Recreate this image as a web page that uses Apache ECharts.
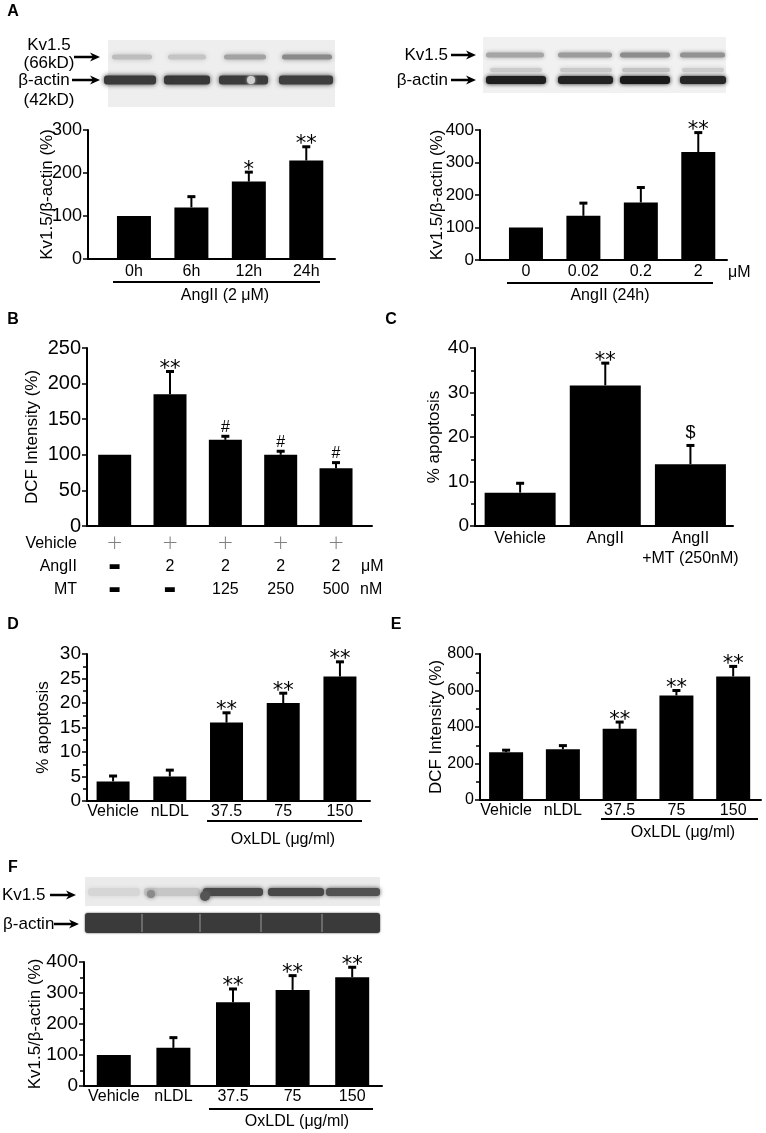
<!DOCTYPE html>
<html><head><meta charset="utf-8">
<script src="https://cdn.jsdelivr.net/npm/echarts@6/dist/echarts.min.js"></script>
<style>html,body{margin:0;padding:0;background:#fff}#c{width:766px;height:1133px}</style>
</head><body><div id="c"></div>
<script>
// ---------------- DATA ----------------
const aTimeCats = ['0h', '6h', '12h', '24h'];
const aTimeVals = [100, 120, 180, 229];
const aTimeErr  = [0, 25, 22, 32];
const aTimeSig  = ['', '', '*', '**'];

const aDoseCats = ['0', '0.02', '0.2', '2'];
const aDoseVals = [100, 136, 177, 332];
const aDoseErr  = [0, 39, 46, 60];
const aDoseSig  = ['', '', '', '**'];

const bVehicleRow = ['+', '+', '+', '+', '+'];
const bAngRow     = ['-', '2', '2', '2', '2'];
const bMtRow      = ['-', '-', '125', '250', '500'];
const bRowNames   = ['Vehicle', 'AngII', 'MT'];
const bVals = [100, 185, 121, 100, 81];
const bErr  = [0, 32, 5, 5, 8];
const bSig  = ['', '**', '#', '#', '#'];

const cCats = ['Vehicle', 'AngII', 'AngII\n+MT (250nM)'];
const cVals = [7.5, 31.6, 13.9];
const cErr  = [2.1, 5.0, 4.2];
const cSig  = ['', '**', '$'];

const oxCats = ['Vehicle', 'nLDL', '37.5', '75', '150'];
const dVals = [4, 5, 16, 20, 25.4];
const dErr  = [1.1, 1.3, 2.0, 2.0, 3.0];
const dSig  = ['', '', '**', '**', '**'];

const eVals = [262, 278, 390, 573, 677];
const eErr  = [11, 20, 37, 27, 55];
const eSig  = ['', '', '**', '**', '**'];

const fVals = [100, 123, 270, 310, 351];
const fErr  = [0, 33, 43, 46, 32];
const fSig  = ['', '', '**', '**', '**'];

// ---------------- LAYOUT ----------------
const FONT = 'Liberation Sans, Arial, Helvetica, sans-serif';
const panels = [
  {cats:aTimeCats, vals:aTimeVals, err:aTimeErr, sig:aTimeSig, grid:{left:88, top:130, width:247, height:129},
   x:[-0.8,3.5], y:[0,300,100], barW:34, yfs:18, gap:32, xm:5, name:'Kv1.5/β-actin (%)', minor:false},
  {cats:aDoseCats, vals:aDoseVals, err:aDoseErr, sig:aDoseSig, grid:{left:480, top:130, width:247, height:130},
   x:[-0.8,3.5], y:[0,400,100], barW:34, yfs:17, gap:34, xm:4, name:'Kv1.5/β-actin (%)', minor:false},
  {cats:null, vals:bVals, err:bErr, sig:bSig, grid:{left:87, top:348, width:285, height:178},
   x:[-0.5,4.65], y:[0,250,50], barW:33, yfs:20, gap:46, xm:6, name:'DCF Intensity (%)', minor:false, bRows:true},
  {cats:cCats, vals:cVals, err:cErr, sig:cSig, grid:{left:475, top:348, width:258, height:178},
   x:[-0.53,2.5], y:[0,40,10], barW:71, yfs:19, gap:32, xm:3, name:'% apoptosis', minor:true, lh:20},
  {cats:oxCats, vals:dVals, err:dErr, sig:dSig, grid:{left:87, top:654, width:283, height:147},
   x:[-0.46,4.53], y:[0,30,5], barW:33, yfs:19, gap:35, xm:3, name:'% apoptosis', minor:true},
  {cats:oxCats, vals:eVals, err:eErr, sig:eSig, grid:{left:480, top:654, width:281, height:146},
   x:[-0.46,4.49], y:[0,800,200], barW:34, yfs:16, gap:35, xm:3, name:'DCF Intensity (%)', minor:true},
  {cats:oxCats, vals:fVals, err:fErr, sig:fSig, grid:{left:84, top:962, width:298, height:124},
   x:[-0.5,4.5], y:[0,400,100], barW:34, yfs:19, gap:40, xm:3, name:'Kv1.5/β-actin (%)', minor:true}
];

function makeErr(sig) {
  return function (params, api) {
    const k = params.dataIndex;
    const x = api.value(0), v = api.value(1), e = api.value(2);
    const p0 = api.coord([x, v]), p1 = api.coord([x, v + e]);
    const ch = [];
    if (e > 0) {
      ch.push({type:'line', shape:{x1:p0[0], y1:p0[1], x2:p1[0], y2:p1[1]}, style:{stroke:'#000', lineWidth:2}});
      ch.push({type:'line', shape:{x1:p1[0]-4, y1:p1[1], x2:p1[0]+4, y2:p1[1]}, style:{stroke:'#000', lineWidth:3}});
    }
    const s = sig[k];
    if (s) {
      const star = s.indexOf('*') >= 0;
      const off = star ? 2 : (s === '$' ? 12 : 9);
      ch.push({type:'text', style:{text:s, x:p1[0], y:p1[1]-off, align:'center', verticalAlign:'middle',
        fontSize: star ? 21 : (s === '$' ? 18 : 16), fontFamily: star ? 'DejaVu Sans' : FONT, fill:'#000'}});
    }
    return {type:'group', children:ch};
  };
}

const grids = [], xAxes = [], yAxes = [], series = [];
panels.forEach((p, i) => {
  grids.push(Object.assign({containLabel:false}, p.grid));
  const idx = p.vals.map((_, k) => k);
  const xl = {customValues: idx, fontSize:16, color:'#000', fontFamily:FONT, margin:p.xm,
    formatter: v => p.cats[Math.round(v)]};
  if (p.lh) xl.lineHeight = p.lh;
  if (p.bRows) {
    xl.formatter = v => {
      const k = Math.round(v);
      const f = s => s === '-' ? '{d|▬}' : (s === '+' ? '{p|+}' : '{n|' + s + '}');
      return f(bVehicleRow[k]) + '\n' + f(bAngRow[k]) + '\n' + f(bMtRow[k]);
    };
    xl.rich = {
      p:{fontSize:20, color:'#808080', fontFamily:'DejaVu Sans', fontWeight:200, lineHeight:23},
      n:{fontSize:16, color:'#000', fontFamily:FONT, lineHeight:23},
      d:{fontSize:13, color:'#000', fontFamily:'DejaVu Sans', lineHeight:23}
    };
  }
  xAxes.push({gridIndex:i, type:'value', min:p.x[0], max:p.x[1],
    axisLine:{show:true, onZero:false, lineStyle:{color:'#000', width:2}},
    axisTick:{show:false}, splitLine:{show:false}, axisLabel:xl});
  yAxes.push({gridIndex:i, type:'value', min:p.y[0], max:p.y[1], interval:p.y[2],
    axisLine:{show:true, onZero:false, lineStyle:{color:'#000', width:2}},
    axisTick:{show:true, length:5, lineStyle:{color:'#000', width:1.5}},
    minorTick:{show:p.minor, splitNumber:2, length:4, lineStyle:{color:'#000', width:1.5}},
    splitLine:{show:false}, minorSplitLine:{show:false},
    axisLabel:{fontSize:p.yfs, color:'#000', fontFamily:FONT, margin:6},
    name:p.name, nameLocation:'middle', nameGap:p.gap, nameMoveOverlap:false,
    nameTextStyle:{fontSize:17, color:'#000', fontFamily:FONT}});
  series.push({type:'bar', xAxisIndex:i, yAxisIndex:i, barWidth:p.barW,
    data:p.vals.map((v, k) => [k, v]), itemStyle:{color:'#000'}, silent:true});
  series.push({type:'custom', xAxisIndex:i, yAxisIndex:i, clip:false, z:5,
    data:p.vals.map((v, k) => [k, v, p.err[k]]), renderItem:makeErr(p.sig)});
});

// ---------------- DECORATION (blots, labels) ----------------
const G = [];
function txt(s, x, y, o) {
  o = o || {};
  G.push({type:'text', z:10, style:{text:s, x:x, y:y, fill:'#000', fontSize:o.fs || 16, fontFamily:FONT,
    fontWeight:o.fw || 'normal', textAlign:o.align || 'center', textVerticalAlign:'middle'}});
}
function arrow(x1, y, x2) {
  G.push({type:'line', z:10, shape:{x1:x1, y1:y, x2:x2-6, y2:y}, style:{stroke:'#000', lineWidth:2.5}});
  G.push({type:'polygon', z:10, shape:{points:[[x2-10, y-4.5], [x2, y], [x2-10, y+4.5], [x2-7, y]]}, style:{fill:'#000'}});
}
function hline(x1, x2, y) {
  G.push({type:'line', z:10, shape:{x1:x1, y1:y, x2:x2, y2:y}, style:{stroke:'#000', lineWidth:2}});
}
function rect(x, y, w, h, fill, blur) {
  G.push({type:'rect', z:1, shape:{x:x, y:y, width:w, height:h, r:blur ? Math.min(h/2, 3) : 0},
    style:{fill:fill, shadowBlur:blur || 0, shadowColor:fill}});
}
function bands(lanes, y, h, blur) {
  lanes.forEach(l => rect(l[0], y - h/2, l[1], h, l[2], blur));
}

// panel letters
txt('A', 13, 12, {fw:'bold', fs:16});
txt('B', 13, 320, {fw:'bold', fs:16});
txt('C', 391, 320, {fw:'bold', fs:16});
txt('D', 13, 625, {fw:'bold', fs:16});
txt('E', 396, 625, {fw:'bold', fs:16});
txt('F', 13, 868, {fw:'bold', fs:16});

// Blot A left
rect(108, 40, 227, 67, '#eeeeee');
bands([[112,40,'#bdbdbd'],[168,38,'#c4c4c4'],[224,42,'#a2a2a2'],[282,50,'#8a8a8a']], 57, 5, 5);
bands([[104,52,'#3a3a3a'],[164,46,'#383838'],[219,49,'#3c3c3c'],[279,54,'#3e3e3e']], 80, 9, 5);
G.push({type:'circle', z:2, shape:{cx:251, cy:80, r:4}, style:{fill:'#cfcfcf', shadowBlur:3, shadowColor:'#cfcfcf'}});
txt('Kv1.5', 49, 45, {fs:17});
txt('(66kD)', 49, 63, {fs:17});
txt('β-actin', 44, 80, {fs:17});
txt('(42kD)', 49, 100, {fs:17});
arrow(74, 57, 100);
arrow(72, 80, 100);

// Blot A right
rect(483, 37, 243, 56, '#f1f1f1');
bands([[486,58,'#a5a5a5'],[558,54,'#9c9c9c'],[620,50,'#8c8c8c'],[680,45,'#929292']], 55, 5, 4);
bands([[490,52,'#cacaca'],[560,52,'#c8c8c8'],[622,48,'#c2c2c2'],[682,42,'#cccccc']], 70, 4, 4);
bands([[486,60,'#1e1e1e'],[558,55,'#222'],[620,50,'#1a1a1a'],[680,46,'#262626']], 80, 8, 4);
txt('Kv1.5', 448, 55, {fs:17, align:'right'});
txt('β-actin', 448, 80, {fs:17, align:'right'});
arrow(451, 55, 476);
arrow(451, 80, 476);

// Blot F
rect(85, 877, 295, 29, '#ebebeb');
bands([[88,52,'#d6d6d6'],[144,56,'#c6c6c6'],[203,60,'#4a4a4a'],[268,56,'#484848'],[326,54,'#525252']], 892, 8, 4);
G.push({type:'circle', z:2, shape:{cx:151, cy:894, r:4}, style:{fill:'#8a8a8a', shadowBlur:4, shadowColor:'#8a8a8a'}});
G.push({type:'circle', z:2, shape:{cx:205, cy:896, r:5}, style:{fill:'#555', shadowBlur:4, shadowColor:'#555'}});
rect(85, 913, 295, 20, '#3a3a3a', 2);
[142, 200, 261, 322].forEach(x => G.push({type:'line', z:2, shape:{x1:x, y1:914, x2:x, y2:932}, style:{stroke:'#6a6a6a', lineWidth:2}}));
txt('Kv1.5', 2, 895, {fs:17, align:'left'});
arrow(50, 895, 76);
txt('β-actin', 3, 924, {fs:17, align:'left'});
arrow(54, 924, 79);

// group underlines and labels
hline(113, 320, 282); txt('AngII (2 μM)', 225, 296);
hline(507, 713, 283); txt('AngII (24h)', 610, 296);
txt('μM', 728, 273, {align:'left'});
hline(207, 362, 821); txt('OxLDL (μg/ml)', 283, 840);
hline(601, 758, 819); txt('OxLDL (μg/ml)', 683, 833);
hline(209, 373, 1109); txt('OxLDL (μg/ml)', 297, 1122);

// B row labels and units
bRowNames.forEach((n, r) => txt(n, 77, 544 + 23*r, {align:'right'}));
txt('μM', 361, 567, {align:'left'});
txt('nM', 360, 590, {align:'left'});

const chart = echarts.init(document.getElementById('c'), null, {renderer:'canvas'});
chart.setOption({
  animation:false,
  backgroundColor:'#fff',
  grid:grids, xAxis:xAxes, yAxis:yAxes, series:series,
  graphic:{elements:G}
});
</script></body></html>
